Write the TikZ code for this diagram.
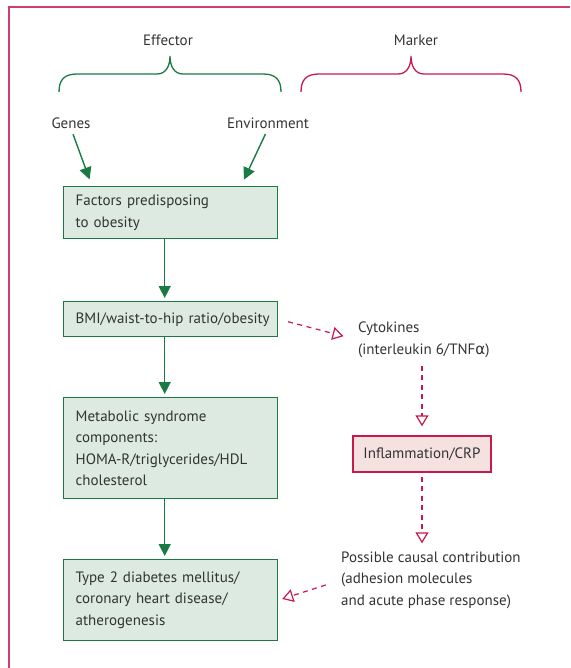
\documentclass[tikz,border=0pt]{standalone}
\usepackage{fontspec}
\setmainfont{PT Sans}
\newfontfamily\grk{DejaVu Sans}
\usetikzlibrary{arrows.meta}
\definecolor{gline}{HTML}{1A7A44}
\definecolor{gfill}{HTML}{DCEAE2}
\definecolor{rline}{HTML}{C8194B}
\definecolor{rfill}{HTML}{F6E1E1}
\definecolor{framec}{HTML}{CF3F6E}
\definecolor{txt}{HTML}{333333}
\begin{document}
\begin{tikzpicture}[x=1pt,y=-1pt,
  font=\fontsize{15}{21.5}\selectfont, text=txt,
  gbox/.style={draw=gline, fill=gfill, line width=1.4pt, anchor=north west,
    align=left, text width=190pt, inner xsep=12pt, inner ysep=0pt, minimum width=214pt},
  rbox/.style={draw=rline, fill=rfill, line width=1.4pt, minimum width=138pt,
    minimum height=36pt, inner sep=0pt},
  lbl/.style={inner sep=0pt},
  garr/.style={draw=gline, line width=1.4pt, -{Triangle[length=12pt,width=12pt]}},
  rarr/.style={draw=rline, line width=1.2pt, dash pattern=on 5pt off 4.5pt,
    -{Triangle[open,length=11pt,width=13pt,line width=1.2pt]}},
  brace/.style={line width=1.3pt}
]
\useasboundingbox (0,0) rectangle (570,668);
% frame
\draw[framec, line width=1.2pt] (9,668) -- (9,7) -- (570,7);
% headers
\node[lbl] (eff) at (168,40) {Effector};
\node[lbl] (mark) at (416,40) {Marker};
% braces
\draw[brace, gline] (59,92) .. controls (59,80) and (64,74) .. (77,74) -- (157,74)
  .. controls (166,74) and (170,66) .. (170,56)
  .. controls (170,66) and (174,74) .. (183,74) -- (263,74)
  .. controls (276,74) and (281,80) .. (281,92);
\draw[brace, rline] (301,92) .. controls (301,80) and (306,74) .. (319,74) -- (398,74)
  .. controls (407,74) and (411,66) .. (411,56)
  .. controls (411,66) and (415,74) .. (424,74) -- (503,74)
  .. controls (516,74) and (521,80) .. (521,92);
% labels
\node[lbl] (genes) at (71,123) {Genes};
\node[lbl] (env) at (268,123) {Environment};
% boxes
\node[gbox, minimum height=52pt] (b1) at (63,186) {Factors predisposing\\to obesity};
\node[gbox, minimum height=35pt] (b2) at (63,301) {\mbox{BMI/waist-to-hip ratio/obesity}};
\node[gbox, minimum height=101pt] (b3) at (63,397) {Metabolic syndrome\\components:\\\mbox{HOMA-R/triglycerides/HDL}\\cholesterol};
\node[gbox, minimum height=81pt] (b4) at (63,559) {Type 2 diabetes mellitus/\\coronary heart disease/\\atherogenesis};
\node[rbox] (infl) at (422,454) {Inflammation/CRP};
\node[lbl, anchor=west, align=left] (cyt) at (358,340) {Cytokines\\(interleukin 6/TNF{\grk α})};
\node[lbl, anchor=west, align=left] (pos) at (341,580) {Possible causal contribution\\(adhesion molecules\\and acute phase response)};
% green arrows
\draw[garr, shorten <=6pt, shorten >=7pt] (genes.south) -- ([xshift=29pt]b1.north west);
\draw[garr, shorten <=6pt, shorten >=7pt] (env.south) -- ([xshift=178pt]b1.north west);
\draw[garr, shorten >=3pt] ([xshift=-6pt]b1.south) -- ([xshift=-6pt]b2.north);
\draw[garr, shorten >=3pt] ([xshift=-6pt]b2.south) -- ([xshift=-6pt]b3.north);
\draw[garr, shorten >=3pt] ([xshift=-6pt]b3.south) -- ([xshift=-6pt]b4.north);
% red dashed arrows
\draw[rarr, shorten <=10pt, shorten >=15pt] (b2.east) -- (cyt.west);
\draw[rarr, shorten <=8pt, shorten >=9pt] (infl.north |- cyt.south) -- (infl.north);
\draw[rarr, shorten <=4pt, shorten >=8pt] (infl.south) -- (infl.south |- pos.north);
\draw[rarr, shorten <=16pt, shorten >=4pt] (pos.west) -- (b4.east);
\end{tikzpicture}
\end{document}
